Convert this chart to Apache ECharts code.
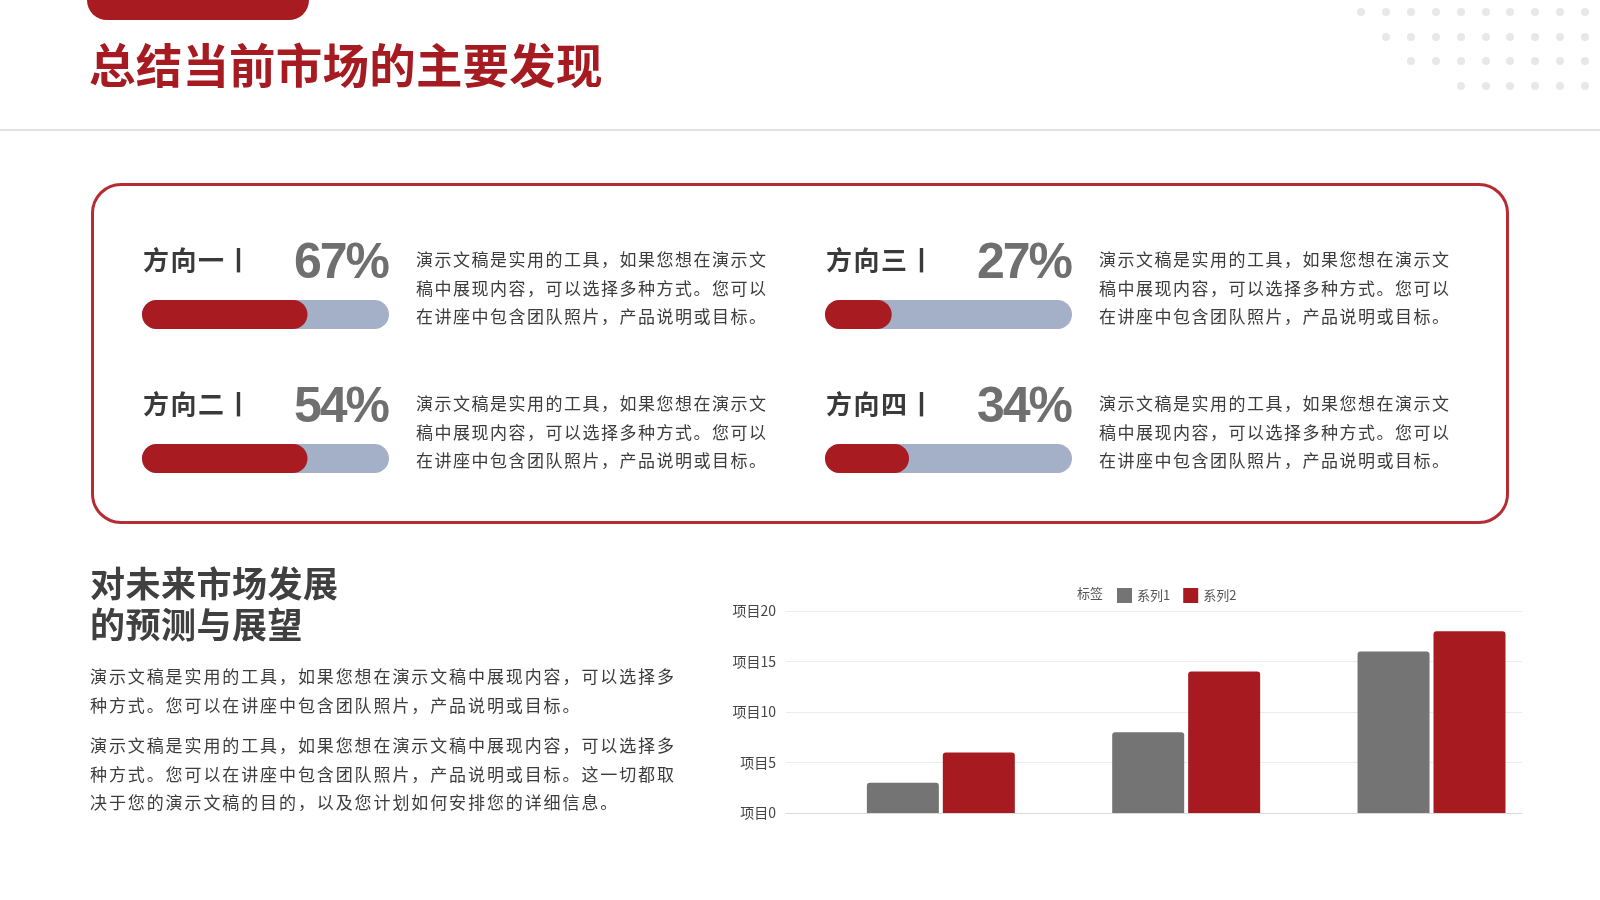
<!DOCTYPE html>
<html lang="zh-CN">
<head>
<meta charset="utf-8">
<title>总结当前市场的主要发现</title>
<script src="https://cdn.jsdelivr.net/npm/echarts@6/dist/echarts.min.js"></script>
<style>
  html, body { margin: 0; padding: 0; background: #fff; }
  body {
    width: 1600px; height: 900px; position: relative; overflow: hidden;
    font-family: "Noto Sans CJK SC", "Noto Sans", sans-serif; color: #3c3c3c;
  }
  .abs { position: absolute; }
  #chart { position: absolute; left: 0; top: 0; width: 1600px; height: 900px; z-index: 2; }
  .tab { left: 87px; top: 0; width: 222px; height: 20px; background: #a81b20; border-radius: 0 0 20px 20px; }
  .title { left: 89px; top: 33px; font-size: 46.5px; line-height: 60px; font-weight: 700; color: #a61b21; letter-spacing: 0.2px; }
  .sep { left: 0; top: 129px; width: 1600px; height: 2px; background: #e3e3e3; }
  .box { left: 91px; top: 183px; width: 1412px; height: 335px; border: 3px solid #b52d32; border-radius: 30px; }
  .dot { width: 8px; height: 8px; border-radius: 50%; background: #e8e8e8; }
  .txt { z-index: 3; }
  .dir { font-size: 26px; font-weight: 700; color: #3a3a3a; line-height: 34px; letter-spacing: 1.5px; }
  .pct { font-family: "Liberation Sans", Arial, sans-serif; font-size: 50px; font-weight: 700; color: #6f6f6f;
         line-height: 56px; letter-spacing: -2px; text-align: right; width: 160px; }
  .para { font-size: 17px; line-height: 28.5px; letter-spacing: 1.5px; color: #3c3c3c; white-space: nowrap; }
  .h2 { left: 90px; top: 561px; font-size: 35px; line-height: 41px; font-weight: 700; color: #404040; letter-spacing: 0.5px; }
  .body { left: 90px; font-size: 17px; line-height: 28.6px; letter-spacing: 1.9px; color: #3c3c3c; white-space: nowrap; }
</style>
</head>
<body>
<div class="abs tab"></div>
<div class="abs title txt">总结当前市场的主要发现</div>
<div class="abs sep"></div>
<div class="abs box"></div>
<div id="dots"></div>

<div class="abs h2 txt">对未来市场发展<br>的预测与展望</div>
<div class="abs body txt" style="top:662px">演示文稿是实用的工具，如果您想在演示文稿中展现内容，可以选择多<br>种方式。您可以在讲座中包含团队照片，产品说明或目标。</div>
<div class="abs body txt" style="top:731px">演示文稿是实用的工具，如果您想在演示文稿中展现内容，可以选择多<br>种方式。您可以在讲座中包含团队照片，产品说明或目标。这一切都取<br>决于您的演示文稿的目的，以及您计划如何安排您的详细信息。</div>

<div id="chart"></div>

<script>
// ---- data ----
const directions = ['方向一', '方向二', '方向三', '方向四'];
const percentLabels = [67, 54, 27, 34];
// length of the red fill as drawn in the picture (方向二 is drawn at the same length as 方向一)
const barFill = [67, 67, 27, 34];
const trackMax = [100];
const descLines = [
  '演示文稿是实用的工具，如果您想在演示文',
  '稿中展现内容，可以选择多种方式。您可以',
  '在讲座中包含团队照片，产品说明或目标。'
];

const categories = ['类别1', '类别2', '类别3'];
const tagValues = [0, 0, 0];
const series1 = [3, 8, 16];
const series2 = [6, 14, 18];
const yMin = 0, yMax = 20, yStep = 5;

// ---- layout ----
const blocks = [
  { x: 142, y: 300 },
  { x: 142, y: 444 },
  { x: 825, y: 300 },
  { x: 825, y: 444 }
];
const trackW = 247, trackH = 29;
const RED = '#a81b20', TRACK = '#a4afc8', GRAY = '#747474';

// dotted decoration, top right
const dotRows = [
  { y: 12, from: 0 }, { y: 37, from: 1 }, { y: 61, from: 2 }, { y: 86, from: 4 }
];
const dotsEl = document.getElementById('dots');
dotRows.forEach(r => {
  for (let k = r.from; k < 10; k++) {
    const d = document.createElement('div');
    d.className = 'abs dot';
    d.style.left = (1357 + k * 24.9) + 'px';
    d.style.top = (r.y - 4) + 'px';
    dotsEl.appendChild(d);
  }
});

// headings and text of the four progress blocks
blocks.forEach((b, i) => {
  const dir = document.createElement('div');
  dir.className = 'abs dir txt';
  dir.style.left = (b.x + 1) + 'px';
  dir.style.top = (b.y - 58) + 'px';
  dir.textContent = directions[i] + '丨';
  document.body.appendChild(dir);

  const pct = document.createElement('div');
  pct.className = 'abs pct txt';
  pct.style.left = (b.x + trackW - 1 - 160) + 'px';
  pct.style.top = (b.y - 67) + 'px';
  pct.textContent = percentLabels[i] + '%';
  document.body.appendChild(pct);

  const p = document.createElement('div');
  p.className = 'abs para txt';
  p.style.left = (b.x + 274) + 'px';
  p.style.top = (b.y - 55) + 'px';
  p.innerHTML = descLines.join('<br>');
  document.body.appendChild(p);
});

// ---- chart ----
const chart = echarts.init(document.getElementById('chart'));

const grid = [], xAxis = [], yAxis = [], series = [];
blocks.forEach((b, i) => {
  grid.push({ left: b.x, top: b.y, width: trackW, height: trackH });
  xAxis.push({ gridIndex: i, type: 'value', min: 0, max: 100, show: false });
  yAxis.push({ gridIndex: i, type: 'category', data: [directions[i]], show: false });
  series.push({
    type: 'bar', xAxisIndex: i, yAxisIndex: i, data: trackMax, barWidth: trackH,
    itemStyle: { color: TRACK, borderRadius: trackH / 2 }, silent: true, z: 1
  });
  series.push({
    type: 'bar', xAxisIndex: i, yAxisIndex: i, data: [barFill[i]], barWidth: trackH, barGap: '-100%',
    itemStyle: { color: RED, borderRadius: trackH / 2 }, silent: true, z: 2
  });
});

const gi = blocks.length;
grid.push({ left: 786, top: 611, width: 736, height: 202 });
xAxis.push({
  gridIndex: gi, type: 'category', data: categories,
  axisLine: { lineStyle: { color: '#d9d9d9' } },
  axisTick: { show: false }, axisLabel: { show: false }
});
yAxis.push({
  gridIndex: gi, type: 'value', min: yMin, max: yMax, interval: yStep,
  axisLine: { show: false }, axisTick: { show: false },
  axisLabel: { formatter: '项目{value}', color: '#444', fontSize: 14, margin: 10, fontFamily: 'Noto Sans CJK SC' },
  splitLine: { lineStyle: { color: '#ececec' } }
});
// "标签" series holds no visible bars, it only takes its slot in each group
series.push({
  name: '标签', type: 'bar', xAxisIndex: gi, yAxisIndex: gi, data: tagValues,
  barWidth: 61, barGap: '5.5%', itemStyle: { color: 'transparent' }
});
series.push({
  name: '系列1', type: 'bar', xAxisIndex: gi, yAxisIndex: gi, data: series1,
  barWidth: 72, barGap: '5.5%', itemStyle: { color: GRAY, borderRadius: [3, 3, 0, 0] }
});
series.push({
  name: '系列2', type: 'bar', xAxisIndex: gi, yAxisIndex: gi, data: series2,
  barWidth: 72, barGap: '5.5%', itemStyle: { color: '#a71b20', borderRadius: [3, 3, 0, 0] }
});

chart.setOption({
  animation: false,
  title: {
    text: '标签', left: 1077, top: 587, padding: 0,
    textStyle: { fontSize: 13, fontWeight: 'normal', color: '#555', fontFamily: 'Noto Sans CJK SC' }
  },
  legend: {
    data: ['系列1', '系列2'], left: 1117, top: 588, padding: 0,
    itemWidth: 15, itemHeight: 15, itemGap: 13, icon: 'rect',
    textStyle: { fontSize: 13, color: '#555', fontFamily: 'Noto Sans CJK SC' }
  },
  grid: grid,
  xAxis: xAxis,
  yAxis: yAxis,
  series: series
});
</script>
</body>
</html>
